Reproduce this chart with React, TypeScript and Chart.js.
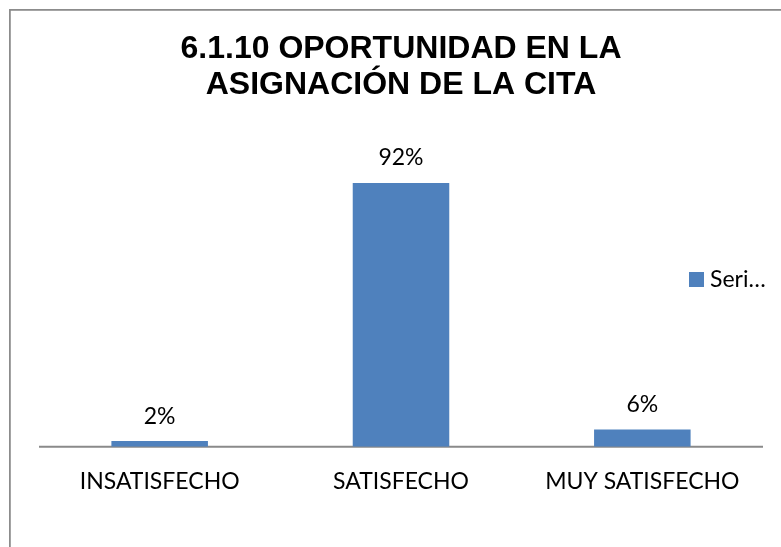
import React, { useEffect, useRef } from "react";
import { Chart, registerables } from "chart.js";

Chart.register(...registerables);

const titleLines = ["6.1.10 OPORTUNIDAD EN LA", "ASIGNACIÓN DE LA CITA"];
const categories = ["INSATISFECHO", "SATISFECHO", "MUY SATISFECHO"];
const values = [2, 92, 6];
const valueLabels = ["2%", "92%", "6%"];
const seriesName = "Series1";
const legendText = "Seri…";

const BAR_COLOR = "#4F81BD";
const TEXT_FONT = "Lato, 'Open Sans', sans-serif";
const TEXT_SIZE = 23;

const framePlugin = {
  id: "frame",
  beforeDraw(chart: any) {
    const ctx = chart.ctx;
    ctx.save();
    ctx.fillStyle = "#ffffff";
    ctx.fillRect(0, 0, chart.width, chart.height);
    ctx.strokeStyle = "#8a8a8a";
    ctx.lineWidth = 1.75;
    ctx.strokeRect(9.9, 9.9, chart.width + 50, chart.height + 50);
    ctx.restore();
  },
  beforeDatasetsDraw(chart: any) {
    const ctx = chart.ctx;
    const area = chart.chartArea;
    ctx.save();
    ctx.strokeStyle = "#8a8a8a";
    ctx.lineWidth = 2;
    ctx.beginPath();
    ctx.moveTo(area.left, area.bottom);
    ctx.lineTo(area.right, area.bottom);
    ctx.stroke();
    ctx.restore();
  },
};

const labelsPlugin = {
  id: "labelsAndLegend",
  afterDatasetsDraw(chart: any) {
    const ctx = chart.ctx;
    ctx.save();
    ctx.font = `${TEXT_SIZE}px ${TEXT_FONT}`;
    ctx.fillStyle = "#000000";
    ctx.textAlign = "center";
    ctx.textBaseline = "alphabetic";
    const meta = chart.getDatasetMeta(0);
    meta.data.forEach((bar: any, i: number) => {
      ctx.fillText(valueLabels[i], bar.x, bar.y - 17.5);
    });
    // legend
    ctx.fillStyle = BAR_COLOR;
    ctx.fillRect(689, 272, 15, 15);
    ctx.fillStyle = "#000000";
    ctx.textAlign = "left";
    ctx.fillText(legendText, 710, 287);
    ctx.restore();
  },
};

export default function App() {
  const canvasRef = useRef<HTMLCanvasElement | null>(null);

  useEffect(() => {
    if (!canvasRef.current) return;
    const chart = new Chart(canvasRef.current, {
      type: "bar",
      data: {
        labels: categories,
        datasets: [
          {
            label: seriesName,
            data: values,
            backgroundColor: BAR_COLOR,
            borderWidth: 0,
            categoryPercentage: 1,
            barPercentage: 0.4,
          },
        ],
      },
      options: {
        animation: false,
        responsive: true,
        maintainAspectRatio: false,
        layout: { padding: { top: 0, left: 39, right: 18, bottom: 30.2 } },
        plugins: {
          legend: { display: false },
          tooltip: { enabled: false },
          title: {
            display: true,
            text: titleLines,
            color: "#000000",
            font: { family: "'Liberation Sans', Arial, sans-serif", size: 32, weight: "bold", lineHeight: 1.14 },
            padding: { top: 30.75, bottom: 56.25 },
          },
        },
        scales: {
          x: {
            grid: { display: false, drawTicks: false },
            border: { display: false },
            ticks: {
              color: "#000000",
              padding: 21.2,
              font: { family: TEXT_FONT, size: TEXT_SIZE },
              maxRotation: 0,
            },
          },
          y: {
            display: false,
            min: 0,
            max: 100,
          },
        },
      },
      plugins: [framePlugin, labelsPlugin],
    });
    return () => chart.destroy();
  }, []);

  return (
    <div style={{ position: "fixed", left: 0, top: 0, width: 781, height: 547, background: "#fff", overflow: "hidden" }}>
      <canvas ref={canvasRef} />
    </div>
  );
}
